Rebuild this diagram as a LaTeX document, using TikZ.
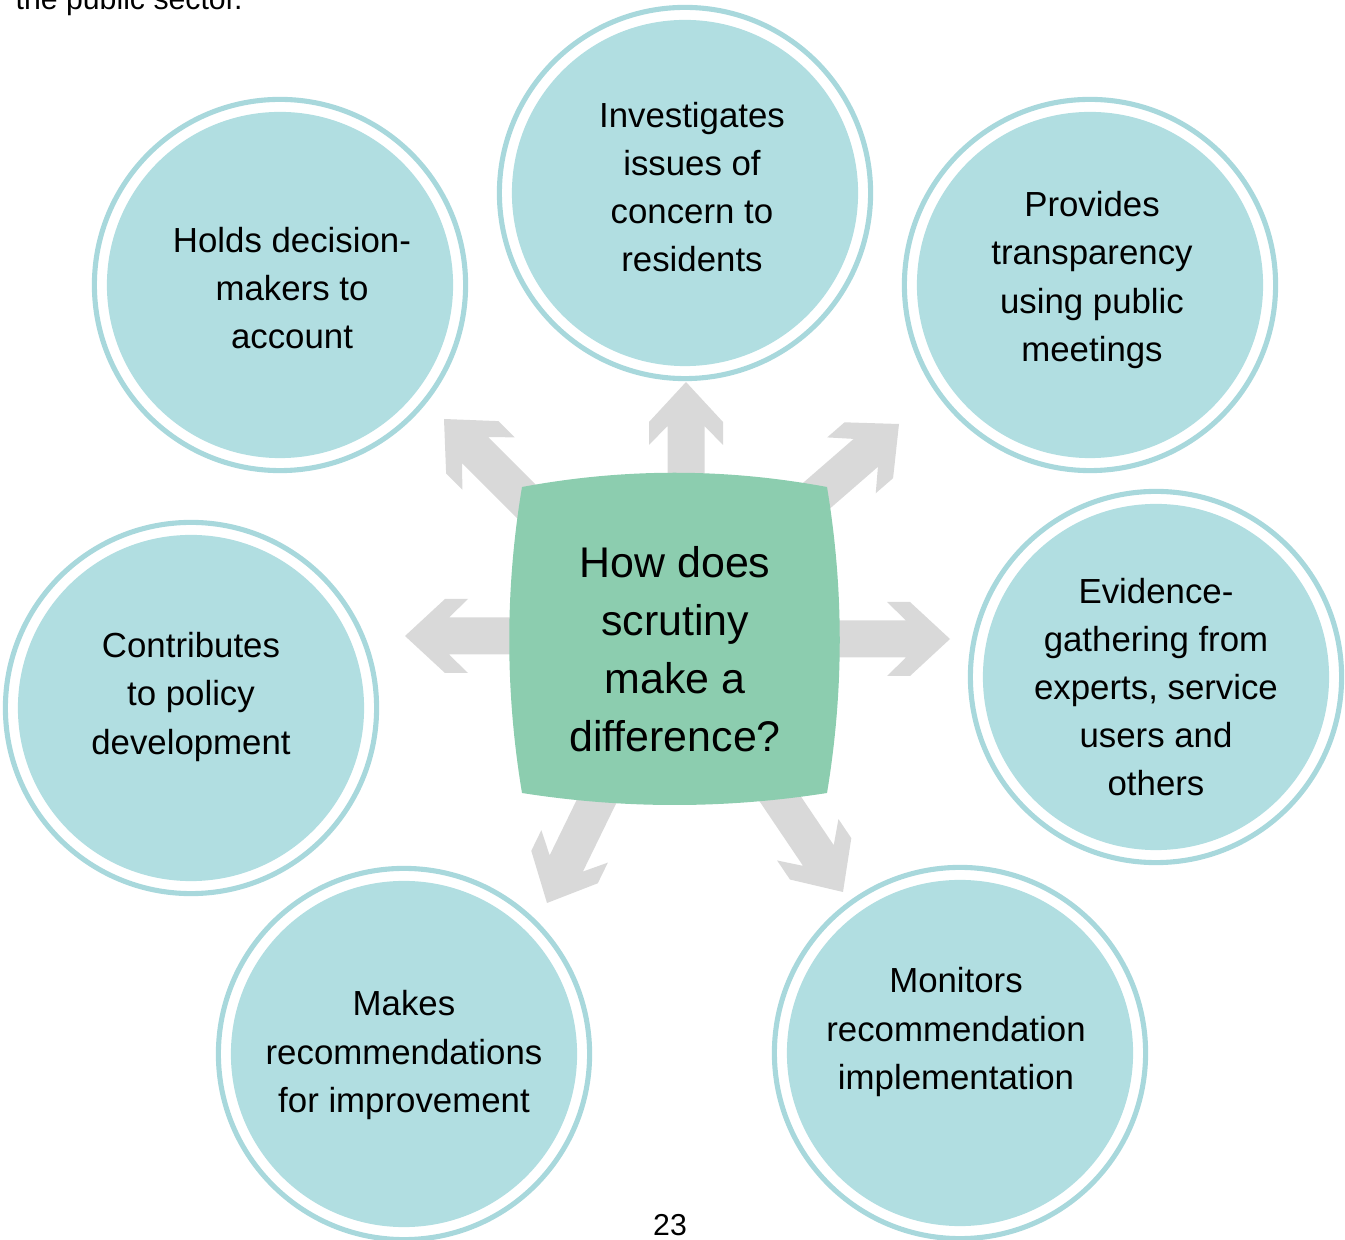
\documentclass[tikz,border=0pt]{standalone}
\usepackage{fontspec}
\setmainfont{Liberation Sans}
\usepackage{xcolor}
\definecolor{disc}{RGB}{177,222,225}
\definecolor{ring}{RGB}{168,216,220}
\definecolor{question}{RGB}{140,205,175}
\definecolor{spoke}{RGB}{217,217,217}
\tikzstyle{disc}=[circle, fill=disc, minimum size=3.46cm, inner sep=0pt]
\tikzstyle{ringline}=[draw=ring, line width=1.45pt]
\tikzstyle{blurb}=[align=center, inner sep=0pt, font=\fontsize{9.9}{13.7}\selectfont]
\tikzstyle{bigblurb}=[align=center, inner sep=0pt, font=\fontsize{12.2}{16.5}\selectfont]
\tikzstyle{page}=[inner sep=0pt, font=\fontsize{8.6}{10}\selectfont]
% block arrow: tip, angle, length
\newcommand{\Spoke}[3]{\fill[spoke,shift={#1},rotate=#2] (0,0) -- (-40,37) -- (-63,37) -- (-44,18.5) -- (-#3,18.5)
  -- (-#3,-18.5) -- (-44,-18.5) -- (-63,-37) -- (-40,-37) -- cycle;}

\begin{document}
\begin{tikzpicture}[x=0.01cm,y=-0.01cm]
  \useasboundingbox (0,0) rectangle (1345,1240);
  \draw (15,10) node[page,anchor=base west] (sector) {the public sector.};

  %% Arrows
  \Spoke{(686,382)}{90}{120}
  \Spoke{(950,639)}{0}{130}
  \Spoke{(405,636)}{180}{130}
  \Spoke{(444,419)}{135}{140}
  \Spoke{(899,424)}{41}{140}
  \Spoke{(547,903)}{244}{130}
  \Spoke{(843,892)}{-56}{130}

  %% Question in the middle
  \fill[question] (522,487) .. controls (624,468) and (725,468) .. (827,487)
    .. controls (844,589) and (844,691) .. (827,793)
    .. controls (725,809) and (624,809) .. (522,793)
    .. controls (505,691) and (505,589) .. (522,487) -- cycle;
  \draw (675,649) node[bigblurb] (q) {How does\\scrutiny\\make a\\difference?};

  %% Circles
  \draw (685,193) node[disc] (inv) {};
  \draw (280,285) node[disc] (hold) {};
  \draw (1090,285) node[disc] (prov) {};
  \draw (191,708) node[disc] (contr) {};
  \draw (1156,677) node[disc] (evid) {};
  \draw (404,1054) node[disc] (make) {};
  \draw (960,1053) node[disc] (mon) {};
  \foreach \n in {inv,hold,prov,contr,evid,make,mon}
    \draw[ringline] (\n.center) circle[radius=1.855cm];

  \draw (692,187) node[blurb] (invtxt) {Investigates\\issues of\\concern to\\residents};
  \draw (292,288) node[blurb] (holdtxt) {Holds decision-\\makers to\\account};
  \draw (1092,280) node[blurb] (provtxt) {Provides\\transparency\\using public\\meetings};
  \draw (191,697) node[blurb] (contrtxt) {Contributes\\to policy\\development};
  \draw (1156,687) node[blurb] (evidtxt) {Evidence-\\gathering from\\experts, service\\users and\\others};
  \draw (404,1055) node[blurb] (maketxt) {Makes\\recommendations\\for improvement};
  \draw (956,1032) node[blurb] (montxt) {Monitors\\recommendation\\implementation};

  %% Page number
  \draw (670,1225) node[page] (pnum) {23};
\end{tikzpicture}
\end{document}
